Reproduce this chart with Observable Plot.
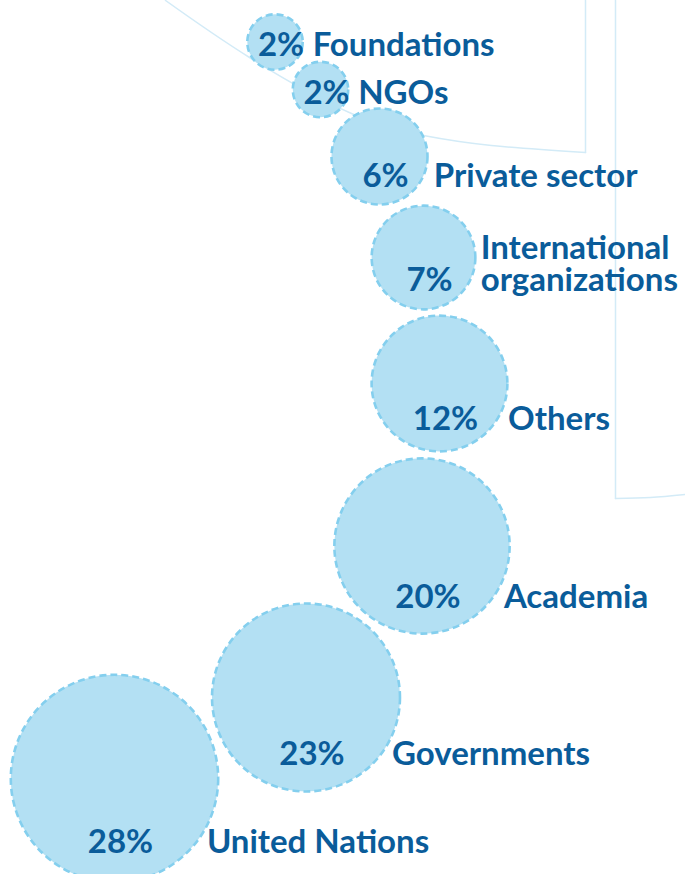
<!DOCTYPE html>
<html><head><meta charset="utf-8">
<script src="https://cdn.jsdelivr.net/npm/d3@7"></script>
<script src="https://cdn.jsdelivr.net/npm/@observablehq/plot@0.6"></script>
<style>body{margin:0;background:#fff} svg{display:block}</style>
</head><body><div id="chart"></div>
<script>
// Data
const categories = ["Foundations", "NGOs", "Private sector", "International\norganizations", "Others", "Academia", "Governments", "United Nations"];
const shares = [2, 2, 6, 7, 12, 20, 23, 28];
// bubble layout (centre positions in layout units)
const layoutX = [274.5, 320, 379, 423, 439, 421.5, 305.5, 114];
const layoutY = [41.5, 89, 156, 257, 383, 545.5, 697, 778];
// decorative background guide lines
const decoArcX = [165, 249, 351, 423, 491, 585];
const decoArcY = [0, 57, 113, 135, 145, 152];
const decoFrameX = [585, 585];
const decoFrameY = [0, 152];
const decoFrame2X = [615, 615, 650, 685];
const decoFrame2Y = [0, 498, 497, 494];

const W = 685, H = 874;
const rMax = 103.7;
const rScale = d3.scaleSqrt([0, 28], [0, rMax]);
const TEXT = "#0a5c9a";
const FONT = 33;

const data = categories.map((c, i) => {
  const r = rScale(shares[i]);
  const base = layoutY[i] + 0.8 * r - 8;
  const mid = base - 12;
  const dy = mid - layoutY[i];
  const edge = layoutX[i] + Math.sqrt(Math.max(0, r * r - dy * dy));
  return {name: c, share: shares[i], x: layoutX[i], y: layoutY[i], base, pctX: layoutX[i] + 6, labX: edge + 10};
});

const arc = decoArcX.map((x, i) => ({x, y: decoArcY[i]}));
const frame1 = decoFrameX.map((x, i) => ({x, y: decoFrameY[i]}));
const frame2a = decoFrame2X.slice(0, 2).map((x, i) => ({x, y: decoFrame2Y[i]}));
const frame2b = decoFrame2X.slice(1).map((x, i) => ({x, y: decoFrame2Y[i + 1]}));

const deco = {stroke: "#d3ebf7", strokeWidth: 1.5};

const chart = Plot.plot({
  width: W, height: H, margin: 0,
  style: {fontFamily: "Lato, sans-serif", background: "#fff"},
  x: {domain: [0, W], range: [0, W], axis: null},
  y: {domain: [0, H], range: [0, H], axis: null},
  r: {type: "sqrt", domain: [0, 28], range: [0, rMax]},
  marks: [
    Plot.line(arc, {x: "x", y: "y", curve: "natural", ...deco}),
    Plot.line(frame1, {x: "x", y: "y", ...deco}),
    Plot.line(frame2a, {x: "x", y: "y", ...deco}),
    Plot.line(frame2b, {x: "x", y: "y", curve: "natural", ...deco}),
    Plot.dot(data, {x: "x", y: "y", r: "share", fill: "#b3e0f3", stroke: "#84cfee", strokeWidth: 2.6, strokeDasharray: "7,4"}),
    Plot.text(data, {x: "pctX", y: "base", text: d => d.share + "%", fill: TEXT, fontSize: FONT, fontWeight: 700, textAnchor: "middle", lineAnchor: "bottom"}),
    Plot.text(data, {x: "labX", y: "base", text: "name", fill: TEXT, fontSize: FONT, fontWeight: 700, textAnchor: "start", lineAnchor: "bottom", lineHeight: 0.97})
  ]
});
document.getElementById("chart").append(chart);
</script>
</body></html>
